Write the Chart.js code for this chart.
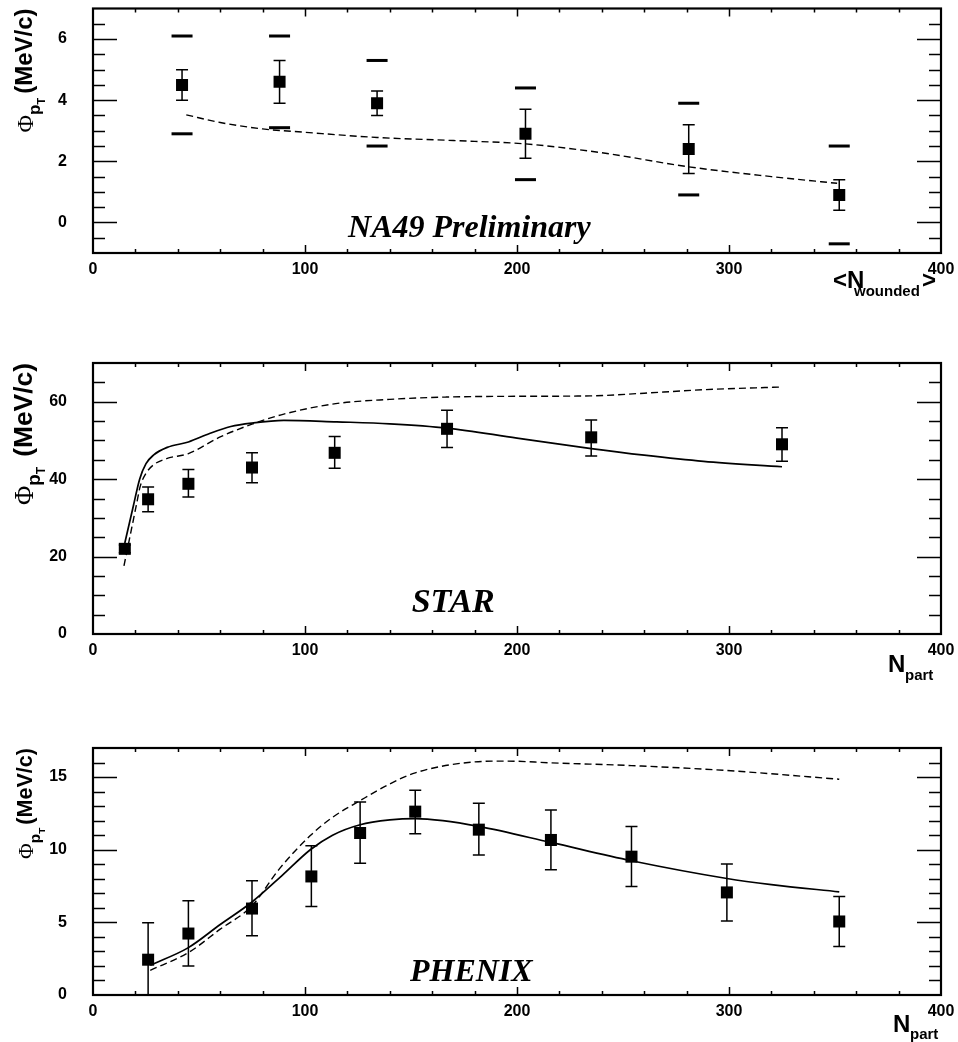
<!DOCTYPE html>
<html>
<head>
<meta charset="utf-8">
<script src="https://cdn.jsdelivr.net/npm/chart.js@4.4.1/dist/chart.umd.min.js"></script>
<style>
  body { margin: 0; background: #fff; }
  .pad { position: absolute; left: 0; width: 958px; }
  canvas { display: block; }
</style>
</head>
<body>
<div class="pad" style="top:0px"><canvas id="na49" width="958" height="320"></canvas></div>
<div class="pad" style="top:340px"><canvas id="star" width="958" height="360"></canvas></div>
<div class="pad" style="top:720px"><canvas id="phenix" width="958" height="322"></canvas></div>
<script>
// ---- NA49 (top) ----
const na49X = [42, 88, 134, 204, 281, 352];
const na49Y = [4.5, 4.6, 3.9, 2.9, 2.4, 0.9];
const na49StatLo = [4.0, 3.9, 3.5, 2.1, 1.6, 0.4];
const na49StatHi = [5.0, 5.3, 4.3, 3.7, 3.2, 1.4];
const na49SysLo = [2.9, 3.1, 2.5, 1.4, 0.9, -0.7];
const na49SysHi = [6.1, 6.1, 5.3, 4.4, 3.9, 2.5];
const na49ModelX = [44, 60, 80, 100, 134, 170, 204, 240, 281, 320, 351];
const na49ModelY = [3.52, 3.27, 3.06, 2.95, 2.78, 2.68, 2.57, 2.28, 1.82, 1.5, 1.28];

// ---- STAR (middle) ----
const starX = [15, 26, 45, 75, 114, 167, 235, 325];
const starY = [22, 34.8, 38.8, 43, 46.8, 53, 50.8, 49];
const starLo = [21, 31.6, 35.4, 39.1, 42.8, 48.2, 46, 44.6];
const starHi = [23, 38, 42.5, 46.8, 51, 57.8, 55.3, 53.3];
const starSolidX = [15, 19, 22, 25, 28.5, 35, 45, 55, 65, 75, 90, 115, 140, 167, 200, 235, 260, 288, 325];
const starSolidY = [23.5, 33, 40, 44, 46.2, 48.2, 49.6, 51.8, 53.6, 54.5, 55.2, 54.8, 54.3, 53.2, 50.6, 47.9, 46.2, 44.6, 43.2];
const starDashX = [14.6, 17, 20.6, 22.2, 25, 28.3, 34.7, 45, 60, 75, 90, 114.5, 140, 166.5, 200, 234.5, 260, 288, 325];
const starDashY = [17.6, 24, 33.7, 38, 41.5, 43.6, 45.3, 46.6, 50.9, 54.2, 56.8, 59.5, 60.6, 61.2, 61.4, 61.5, 62.2, 63.1, 63.8];

// ---- PHENIX (bottom) ----
const phenixX = [26, 45, 75, 103, 126, 152, 182, 216, 254, 299, 352];
const phenixY = [2.43, 4.23, 5.95, 8.16, 11.15, 12.62, 11.38, 10.67, 9.52, 7.06, 5.06];
const phenixLo = [0, 2.0, 4.07, 6.09, 9.06, 11.1, 9.63, 8.62, 7.47, 5.1, 3.33];
const phenixHi = [4.97, 6.48, 7.86, 10.28, 13.29, 14.09, 13.2, 12.74, 11.59, 9.01, 6.78];
const phenixSolidX = [27, 45, 60, 75, 89, 102.5, 113, 126, 140, 152, 165, 182, 216, 254, 299, 320, 352];
const phenixSolidY = [2.05, 3.26, 4.85, 6.4, 8.2, 10.0, 11.0, 11.72, 12.05, 12.14, 12.0, 11.6, 10.5, 9.24, 8.02, 7.6, 7.1];
const phenixDashX = [27, 45, 60, 75, 88, 102.5, 113, 126, 140, 152, 178, 195, 216, 254, 299, 352];
const phenixDashY = [1.7, 2.92, 4.53, 6.14, 8.7, 10.97, 12.23, 13.38, 14.53, 15.29, 16.02, 16.1, 15.98, 15.79, 15.45, 14.85];

const xTickLabels = [0, 100, 200, 300, 400];

const SANS = 'Arial, "Liberation Sans", Helvetica, sans-serif';
const SERIF = '"Liberation Serif", "Times New Roman", serif';

function pts(xs, ys) {
    return xs.map((x, i) => ({x: x, y: ys[i]}));
}

function curve(xs, ys, dashed) {
    return {
        type: 'line',
        data: pts(xs, ys),
        showLine: true,
        borderColor: '#000',
        borderWidth: dashed ? 1.4 : 1.7,
        borderDash: dashed ? [7, 4] : [],
        pointRadius: 0,
        cubicInterpolationMode: 'monotone',
        fill: false
    };
}

function markers(xs, ys) {
    return {
        type: 'scatter',
        data: pts(xs, ys),
        pointStyle: 'rect',
        pointRadius: 8.5,
        backgroundColor: '#000',
        borderWidth: 0
    };
}

// rotated y title, top-aligned with the frame
function drawYTitle(ctx, top, s, gap) {
    ctx.save();
    ctx.rotate(-Math.PI / 2);
    ctx.fillStyle = '#000';
    ctx.textAlign = 'left';
    ctx.textBaseline = 'alphabetic';
    const fPhi = (24 * s) + 'px ' + SERIF;
    const fP = 'bold ' + (17 * s) + 'px ' + SANS;
    const fT = 'bold ' + (11 * s) + 'px ' + SANS;
    const fM = 'bold ' + (24 * s) + 'px ' + SANS;
    ctx.font = fPhi; const wPhi = ctx.measureText('\u03A6').width;
    ctx.font = fP; const wP = ctx.measureText('p').width;
    ctx.font = fT; const wT = ctx.measureText('T').width;
    ctx.font = fM; const wM = ctx.measureText('(MeV/c)').width;
    let u = -top - (wPhi + wP + wT + gap + wM);
    ctx.font = fPhi; ctx.fillText('\u03A6', u, 33); u += wPhi;
    ctx.font = fP; ctx.fillText('p', u, 40); u += wP;
    ctx.font = fT; ctx.fillText('T', u, 45); u += wT + gap;
    ctx.font = fM; ctx.fillText('(MeV/c)', u, 32);
    ctx.restore();
}

function makePanel(cfg) {
    const decor = {
        id: 'decor_' + cfg.id,
        afterDatasetsDraw(chart) {
            const {ctx, chartArea: a, scales: {x, y}} = chart;
            ctx.save();
            ctx.fillStyle = '#000';
            ctx.strokeStyle = '#000';

            // systematic bands (thick dashes)
            if (cfg.sysLo) {
                cfg.px.forEach((v, i) => {
                    const cx = x.getPixelForValue(v);
                    [cfg.sysLo[i], cfg.sysHi[i]].forEach(s => {
                        ctx.fillRect(cx - 10.5, y.getPixelForValue(s) - 1.5, 21, 3);
                    });
                });
            }

            // statistical error bars
            ctx.lineWidth = 1.5;
            cfg.px.forEach((v, i) => {
                const cx = x.getPixelForValue(v);
                const y1 = y.getPixelForValue(cfg.lo[i]);
                const y2 = y.getPixelForValue(cfg.hi[i]);
                ctx.beginPath();
                ctx.moveTo(cx, y1); ctx.lineTo(cx, y2);
                ctx.moveTo(cx - 6, y1); ctx.lineTo(cx + 6, y1);
                ctx.moveTo(cx - 6, y2); ctx.lineTo(cx + 6, y2);
                ctx.stroke();
            });

            // ticks on all four sides
            ctx.lineWidth = 1.5;
            ctx.beginPath();
            for (let v = cfg.yMin; v <= cfg.yMax + 1e-9; v += cfg.yMinor) {
                const vv = Math.round(v * 1000) / 1000;
                if (vv <= cfg.yMin || vv >= cfg.yMax) continue;
                const major = cfg.yMajor.includes(vv);
                const len = major ? 24 : 12;
                const py = Math.round(y.getPixelForValue(vv)) + 0.5;
                ctx.moveTo(a.left, py); ctx.lineTo(a.left + len, py);
                ctx.moveTo(a.right, py); ctx.lineTo(a.right - len, py);
            }
            for (let v = 20; v < 400; v += 20) {
                const len = v % 100 === 0 ? 8 : 4;
                const px = Math.round(x.getPixelForValue(v)) + 0.5;
                ctx.moveTo(px, a.bottom); ctx.lineTo(px, a.bottom - len);
                ctx.moveTo(px, a.top); ctx.lineTo(px, a.top + len);
            }
            ctx.stroke();

            // frame
            ctx.lineWidth = 2.2;
            ctx.strokeRect(a.left, a.top, a.right - a.left, a.bottom - a.top);

            // experiment label
            ctx.font = 'italic bold ' + cfg.labelSize + 'px ' + SERIF;
            ctx.textAlign = 'left';
            ctx.textBaseline = 'alphabetic';
            ctx.fillText(cfg.label, x.getPixelForValue(cfg.labelAt[0]), y.getPixelForValue(cfg.labelAt[1]));

            // axis titles
            drawYTitle(ctx, a.top, cfg.yTitleScale, cfg.yTitleGap);
            cfg.xTitle(ctx, a);
            ctx.restore();
        }
    };

    return new Chart(document.getElementById(cfg.id), {
        type: 'scatter',
        data: {
            datasets: [
                ...cfg.curves,
                markers(cfg.px, cfg.py)
            ]
        },
        options: {
            responsive: false,
            animation: false,
            devicePixelRatio: 1,
            events: [],
            layout: {padding: {top: cfg.padTop, right: 17, left: 0, bottom: 0}},
            plugins: {legend: {display: false}, tooltip: {enabled: false}},
            scales: {
                x: {
                    type: 'linear', min: 0, max: 400,
                    grid: {display: false, drawTicks: false},
                    border: {display: false},
                    afterBuildTicks: s => { s.ticks = xTickLabels.map(v => ({value: v})); },
                    afterFit: s => { s.height = cfg.xHeight; s.paddingLeft = 0; s.paddingRight = 0; },
                    ticks: {
                        autoSkip: false, maxRotation: 0, padding: 7, color: '#000',
                        font: {family: SANS, size: 16, weight: 'bold'}
                    }
                },
                y: {
                    type: 'linear', min: cfg.yMin, max: cfg.yMax,
                    grid: {display: false, drawTicks: false},
                    border: {display: false},
                    afterBuildTicks: s => { s.ticks = cfg.yMajor.map(v => ({value: v})); },
                    afterFit: s => { s.width = 93; s.paddingTop = 0; s.paddingBottom = 0; },
                    ticks: {
                        autoSkip: false, padding: 26, color: '#000',
                        font: {family: SANS, size: 16, weight: 'bold'}
                    }
                }
            }
        },
        plugins: [decor]
    });
}

function subTitle(ctx, a, bigText, bigX, subText, subX, dy1, dy2, tail, tailX) {
    ctx.textAlign = 'left';
    ctx.textBaseline = 'alphabetic';
    ctx.font = 'bold 24px ' + SANS;
    ctx.fillText(bigText, bigX, a.bottom + dy1);
    if (tail) ctx.fillText(tail, tailX, a.bottom + dy1);
    ctx.font = 'bold 15px ' + SANS;
    ctx.fillText(subText, subX, a.bottom + dy2);
}

makePanel({
    id: 'na49', padTop: 7, xHeight: 320 - 253,
    yMin: -1, yMax: 7, yMinor: 0.5, yMajor: [0, 2, 4, 6],
    px: na49X, py: na49Y, lo: na49StatLo, hi: na49StatHi,
    sysLo: na49SysLo, sysHi: na49SysHi,
    curves: [curve(na49ModelX, na49ModelY, true)],
    label: 'NA49 Preliminary', labelSize: 32, labelAt: [120.3, -0.48],
    yTitleScale: 1, yTitleGap: 4,
    xTitle: (ctx, a) => subTitle(ctx, a, '<N', 833, 'wounded', 854, 35, 43, '>', 922)
});

makePanel({
    id: 'star', padTop: 23, xHeight: 360 - 294,
    yMin: 0, yMax: 70, yMinor: 5, yMajor: [0, 20, 40, 60],
    px: starX, py: starY, lo: starLo, hi: starHi,
    curves: [curve(starSolidX, starSolidY, false), curve(starDashX, starDashY, true)],
    label: 'STAR', labelSize: 34, labelAt: [150.3, 5.75],
    yTitleScale: 1.1, yTitleGap: 10,
    xTitle: (ctx, a) => subTitle(ctx, a, 'N', 888, 'part', 905, 38, 46)
});

makePanel({
    id: 'phenix', padTop: 28, xHeight: 322 - 275,
    yMin: 0, yMax: 17, yMinor: 1, yMajor: [0, 5, 10, 15],
    px: phenixX, py: phenixY, lo: phenixLo, hi: phenixHi,
    curves: [curve(phenixSolidX, phenixSolidY, false), curve(phenixDashX, phenixDashY, true)],
    label: 'PHENIX', labelSize: 32, labelAt: [149.5, 0.97],
    yTitleScale: 0.9, yTitleGap: 3,
    xTitle: (ctx, a) => subTitle(ctx, a, 'N', 893, 'part', 910, 37, 44)
});
</script>
</body>
</html>
